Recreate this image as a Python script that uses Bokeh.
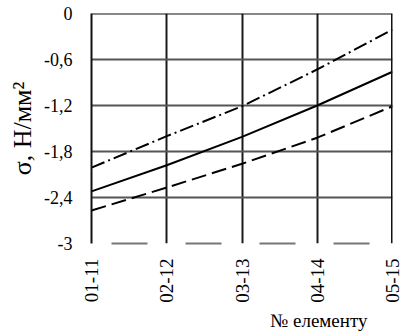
import math
from bokeh.plotting import figure
from bokeh.models import Range1d, FixedTicker, Span, Title
from bokeh.embed import file_html
from bokeh.resources import INLINE

categories = ["01-11", "02-12", "03-13", "04-14", "05-15"]
solid_vals = [-2.32, -1.98, -1.61, -1.20, -0.76]
dashdot_vals = [-2.01, -1.60, -1.21, -0.73, -0.21]
dashed_vals = [-2.57, -2.27, -1.96, -1.62, -1.21]
y_ticks = [-3, -2.4, -1.8, -1.2, -0.6, 0]
y_tick_labels = ["-3", "-2,4", "-1,8", "-1,2", "-0,6", "0"]

xs = list(range(len(categories)))
FONT = "Liberation Serif"

p = figure(width=403, height=334, output_backend="svg", toolbar_location=None,
           x_range=Range1d(0, len(categories) - 1), y_range=Range1d(-3, 0),
           min_border_left=91, min_border_right=11, min_border_top=13, min_border_bottom=91)
p.background_fill_color = "white"
p.border_fill_color = "white"
p.outline_line_color = None

# grid
p.xgrid.ticker = FixedTicker(ticks=xs)
p.xgrid.grid_line_color = "#1a1a1a"
p.xgrid.grid_line_width = 2
p.ygrid.ticker = FixedTicker(ticks=y_ticks[1:])
p.ygrid.grid_line_color = "#555555"
p.ygrid.grid_line_width = 2

p.add_layout(Span(location=0, dimension="width", line_color="#111111", line_width=2))
p.add_layout(Span(location=len(categories) - 1, dimension="height", line_color="#111111", line_width=3))

# axes
p.xaxis.ticker = FixedTicker(ticks=xs)
p.xaxis.major_label_overrides = {i: c for i, c in enumerate(categories)}
p.xaxis.major_label_orientation = math.pi / 2
p.xaxis.major_label_text_font = FONT
p.xaxis.major_label_text_font_size = "19px"
p.xaxis.major_label_text_color = "black"
p.xaxis.major_label_standoff = 9
p.xaxis.major_tick_line_color = None
p.xaxis.minor_tick_line_color = None
p.xaxis.axis_line_color = "#777777"
p.xaxis.axis_line_width = 2
p.xaxis.axis_line_dash = "36 38"
p.xaxis.axis_line_dash_offset = -20

p.yaxis.ticker = FixedTicker(ticks=y_ticks)
p.yaxis.major_label_overrides = {t: l for t, l in zip(y_ticks, y_tick_labels)}
p.yaxis.major_label_text_font = FONT
p.yaxis.major_label_text_font_size = "18px"
p.yaxis.major_label_text_color = "black"
p.yaxis.major_label_standoff = 13
p.yaxis.major_tick_line_color = None
p.yaxis.minor_tick_line_color = None
p.yaxis.axis_line_color = "#111111"
p.yaxis.axis_line_width = 2
p.yaxis.axis_label = "σ, Н/мм²"
p.yaxis.axis_label_text_font = FONT
p.yaxis.axis_label_text_font_size = "26px"
p.yaxis.axis_label_text_font_style = "normal"
p.yaxis.axis_label_text_color = "black"
p.yaxis.axis_label_standoff = 4

# lines
p.line(xs, dashdot_vals, line_color="black", line_width=2, line_dash="14 4 2 4")
p.line(xs, solid_vals, line_color="black", line_width=2)
p.line(xs, dashed_vals, line_color="black", line_width=2, line_dash="15 6")

xt = Title(text="№ елементу", align="right", offset=25, standoff=5, text_font=FONT,
           text_font_size="19px", text_font_style="normal", text_color="black")
p.add_layout(xt, "below")

open("out.html", "w").write(file_html(p, INLINE))
